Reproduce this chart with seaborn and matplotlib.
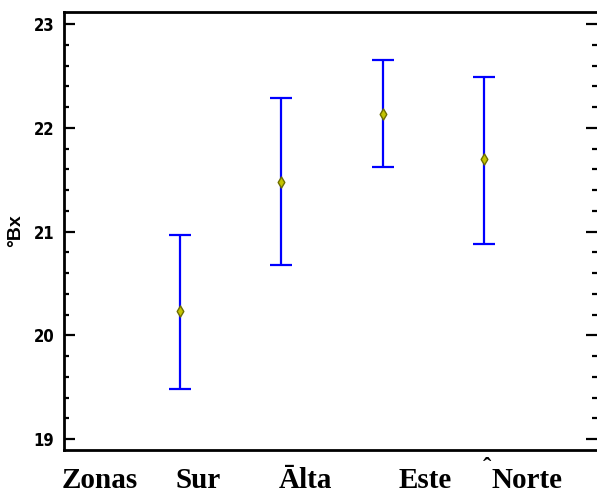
import numpy as np
import pandas as pd
import seaborn as sns
import matplotlib
matplotlib.use("Agg")
import matplotlib.pyplot as plt
from matplotlib.ticker import MultipleLocator
import matplotlib.transforms as mtransforms

# ---- data ----
zonas = ["Sur", "Ālta", "Este", "Norte"]
medias = [20.23, 21.48, 22.13, 21.70]
inferior = [19.48, 20.68, 21.62, 20.88]
superior = [20.97, 22.29, 22.65, 22.49]
posiciones = [1, 2, 3, 4]
y_ticks = [19, 20, 21, 22, 23]

df = pd.DataFrame({"pos": posiciones, "zona": zonas, "media": medias,
                   "inf": inferior, "sup": superior})

sns.set_style("ticks")
plt.rcParams["font.family"] = ["Liberation Sans Narrow", "DejaVu Sans"]
plt.rcParams["text.color"] = "black"

fig = plt.figure(figsize=(5.97, 4.94), dpi=100)
ax = fig.add_axes([64 / 597, 1 - 450 / 494, 1 - 64 / 597, (450 - 12) / 494])

# error bars
yerr = np.vstack([df["media"] - df["inf"], df["sup"] - df["media"]])
ax.errorbar(df["pos"], df["media"], yerr=yerr, fmt="none", ecolor="#0000FF",
            elinewidth=1.6, capsize=8, capthick=1.6, zorder=2)
sns.scatterplot(data=df, x="pos", y="media", ax=ax, marker="d", s=32,
                color="#C4C400", edgecolor="#6E6E00", linewidth=1.0,
                zorder=3, legend=False)

ax.set_xlim(-0.145, 5.115)
ax.set_ylim(18.894, 23.116)
ax.set_yticks(y_ticks)
ax.yaxis.set_minor_locator(MultipleLocator(0.2))
ax.set_xticks([])
ax.set_xlabel("")
ax.set_ylabel("")

for lab in ax.get_yticklabels():
    lab.set_fontweight("bold")
    lab.set_fontsize(12)
    lab.set_fontstretch("condensed")
    lab.set_color("black")

ax.tick_params(axis="y", which="major", direction="in", length=8, width=1.6,
               pad=7, left=True, right=True, colors="black")
ax.tick_params(axis="y", which="minor", direction="in", length=3.5, width=1.6,
               left=True, right=True, colors="black")

for side in ["left", "top", "bottom"]:
    ax.spines[side].set_linewidth(2.0)
    ax.spines[side].set_color("black")
ax.spines["right"].set_visible(False)

# y label
fig.text(16 / 597, 1 - 231 / 494, "°Bx", rotation=90, ha="center", va="center",
         fontsize=14, fontweight="bold", color="black",
         family=["Liberation Sans", "DejaVu Sans"])

# x category labels (serif, bold)
trans = mtransforms.blended_transform_factory(ax.transData, ax.transAxes)
label_x = [0.21, 1.18, 2.24, 3.42, 4.42]
label_txt = ["Zonas"] + zonas
for xx, tt in zip(label_x, label_txt):
    ax.text(xx, -0.0868, tt, transform=trans, ha="center", va="baseline",
            fontsize=21, fontweight="bold", color="black",
            family=["Liberation Serif", "DejaVu Serif"])
# accent mark over the N of "Norte"
ax.text(4.03, -0.058, "ˆ", transform=trans, ha="center", va="baseline",
        fontsize=18, fontweight="bold", color="black",
        family=["Liberation Serif", "DejaVu Serif"])

fig.savefig("out.png", dpi=100)
